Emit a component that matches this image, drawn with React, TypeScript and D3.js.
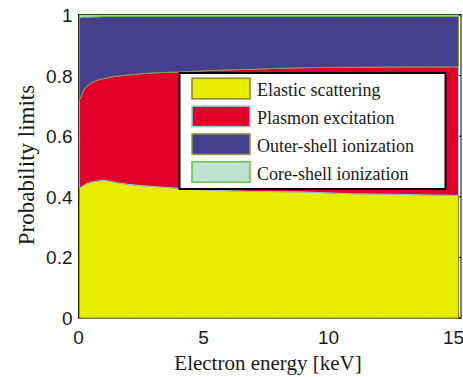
import React from "react";
import * as d3 from "d3";

// Electron energy grid [keV]
const energy = [0.03, 0.1, 0.2, 0.3, 0.5, 0.75, 1, 1.5, 2, 2.5, 3, 4, 5, 6, 7, 8, 9, 10, 11, 12, 13, 14, 15, 15.2];

// Probability of each interaction type at every energy
const elastic = [0.43, 0.432, 0.437, 0.442, 0.448, 0.452, 0.455, 0.447, 0.441, 0.437, 0.434, 0.428, 0.423, 0.42, 0.418, 0.417, 0.416, 0.413, 0.41, 0.409, 0.408, 0.406, 0.405, 0.405];
const plasmon = [0.29, 0.298, 0.313, 0.32, 0.328, 0.333, 0.335, 0.351, 0.361, 0.369, 0.375, 0.384, 0.393, 0.399, 0.403, 0.407, 0.41, 0.414, 0.418, 0.419, 0.421, 0.423, 0.424, 0.424];
const outerShell = [0.272, 0.262, 0.243, 0.231, 0.217, 0.209, 0.205, 0.197, 0.193, 0.189, 0.186, 0.183, 0.179, 0.176, 0.174, 0.171, 0.169, 0.168, 0.167, 0.167, 0.166, 0.166, 0.166, 0.166];
const coreShell = [0.008, 0.008, 0.007, 0.007, 0.007, 0.006, 0.005, 0.005, 0.005, 0.005, 0.005, 0.005, 0.005, 0.005, 0.005, 0.005, 0.005, 0.005, 0.005, 0.005, 0.005, 0.005, 0.005, 0.005];

const seriesNames = ["Elastic scattering", "Plasmon excitation", "Outer-shell ionization", "Core-shell ionization"];
const fillColors = ["#e8ec00", "#e0002a", "#463f8f", "#bfe1d2"];
const edgeColors = ["#84842c", "#8ccbe6", "#8a9c3c", "#66c046"];

const xTicks = [0, 5, 10, 15];
const yTicks = [0, 0.2, 0.4, 0.6, 0.8, 1];

const W = 463;
const H = 377;
const left = 78.5;
const right = 461;
const top = 15;
const bottom = 318;

export default function App() {
  const x = d3.scaleLinear().domain([0, 15.3]).range([left, right]);
  const y = d3.scaleLinear().domain([0, 1]).range([bottom, top]);

  const rows = energy.map((e, i) => ({
    e,
    s0: elastic[i],
    s1: plasmon[i],
    s2: outerShell[i],
    s3: coreShell[i],
  }));
  const stack = d3.stack<any>().keys(["s0", "s1", "s2", "s3"]);
  const layers = stack(rows);
  const area = d3
    .area<any>()
    .x((d) => x(d.data.e))
    .y0((d) => y(d[0]))
    .y1((d) => y(d[1]));

  const sans = "'Liberation Sans', Arial, sans-serif";
  const serif = "'Liberation Serif', 'Times New Roman', serif";

  const legX = 179.5;
  const legY = 73;
  const legW = 266;
  const legH = 116;
  const rowStep = 27.8;

  return (
    <svg
      width={W}
      height={H}
      style={{ position: "absolute", left: 0, top: 0, background: "#fff" }}
    >
      {/* axes frame and inward ticks, drawn beneath the areas */}
      <rect x={left} y={top - 0.5} width={right - left} height={bottom - top + 0.5} fill="#fff" stroke="#000" strokeWidth={1} />
      {xTicks.map((t) => (
        <g key={"xt" + t}>
          <line x1={x(t)} x2={x(t)} y1={bottom} y2={bottom - 4} stroke="#000" />
          <line x1={x(t)} x2={x(t)} y1={top} y2={top + 4} stroke="#000" />
        </g>
      ))}
      {yTicks.map((t) => (
        <g key={"yt" + t}>
          <line x1={left} x2={left + 4} y1={y(t)} y2={y(t)} stroke="#000" />
          <line x1={right} x2={right - 4} y1={y(t)} y2={y(t)} stroke="#000" />
        </g>
      ))}

      {layers.map((layer, i) => (
        <path
          key={seriesNames[i]}
          d={area(layer) || ""}
          fill={fillColors[i]}
          stroke={edgeColors[i]}
          strokeWidth={1}
        />
      ))}

      {/* tick labels */}
      {xTicks.map((t) => (
        <text key={"xl" + t} x={x(t)} y={343.5} fontFamily={sans} fontSize={19} textAnchor="middle" fill="#1a1a1a">
          {t}
        </text>
      ))}
      {yTicks.map((t) => (
        <text key={"yl" + t} x={72.5} y={y(t) + 7} fontFamily={sans} fontSize={19} textAnchor="end" fill="#1a1a1a">
          {t}
        </text>
      ))}

      {/* axis titles */}
      <text x={268} y={370} fontFamily={serif} fontSize={21} textAnchor="middle" fill="#1a1a1a">
        Electron energy [keV]
      </text>
      <text
        transform={`translate(34,165) rotate(-90)`}
        fontFamily={serif}
        fontSize={23}
        textAnchor="middle"
        fill="#1a1a1a"
      >
        Probability limits
      </text>

      {/* legend */}
      <rect x={legX} y={legY} width={legW} height={legH} fill="#fff" stroke="#000" strokeWidth={2} />
      {seriesNames.map((name, i) => {
        const ry = legY + 5.3 + i * rowStep;
        return (
          <g key={"lg" + i}>
            <rect x={192} y={ry} width={58} height={20.5} fill={fillColors[i]} stroke={edgeColors[i]} strokeWidth={1.5} />
            <text x={257} y={ry + 18} fontFamily={serif} fontSize={18} fill="#1a1a1a">
              {name}
            </text>
          </g>
        );
      })}
    </svg>
  );
}
